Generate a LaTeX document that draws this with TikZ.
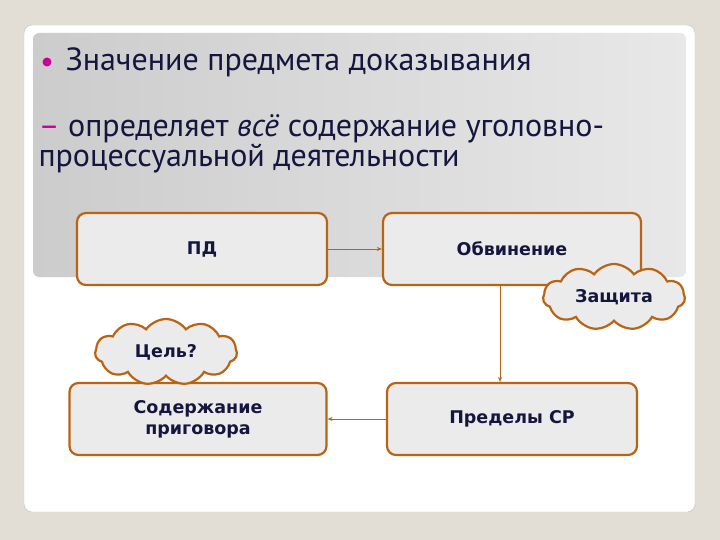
\documentclass[tikz,border=0pt]{standalone}
\usepackage{fontspec}
\setmainfont{PT Sans}
\newfontfamily\boxfont{DejaVu Sans}
\usetikzlibrary{arrows.meta,positioning,shapes.symbols}

\definecolor{bgbeige}{HTML}{E3DED5}
\definecolor{brdbrown}{HTML}{B86414}
\definecolor{boxgray}{HTML}{EBEBEB}
\definecolor{navytext}{HTML}{14163E}
\definecolor{accent}{HTML}{CC0099}

\begin{document}
\begin{tikzpicture}[
  x=1pt, y=-1pt,
  >=Stealth,
  every node/.style={text=navytext},
  stage/.style={draw=brdbrown, line width=2.2pt, rounded corners=9pt,
                fill=boxgray, minimum height=72pt, align=center,
                font=\boxfont\bfseries\fontsize{17.5}{21}\selectfont},
  puff/.style={cloud, cloud puffs=11, cloud puff arc=110, aspect=2.2,
               draw=brdbrown, line width=2.2pt, fill=boxgray,
               minimum width=142pt, minimum height=66pt, inner sep=0pt,
               font=\boxfont\bfseries\fontsize{17.5}{21}\selectfont},
  link/.style={brdbrown, line width=1pt},
  heading/.style={anchor=base west, font=\fontsize{32}{36}\selectfont},
]
% slide background
\fill[bgbeige] (0,0) rectangle (720,540);
\useasboundingbox (0,0) rectangle (720,540);
\filldraw[fill=white, draw=black!25, rounded corners=8pt] (24,25) rectangle (695,512);
\shade[left color=black!20, right color=black!9, rounded corners=6pt] (33,33) rectangle (686,277);

% heading text
\fill[accent] (47,62) circle (4.5pt);
\node[heading] (title) at (62,71) {Значение предмета доказывания};
\node[heading] (line1) at (35,137)
  {\textcolor{accent}{–} определяет \textit{всё} содержание уголовно-};
\node[heading] (line2) at (35,167) {процессуальной деятельности};

% the four stages
\node[stage, minimum width=250pt] (pd)   at (202,249) {ПД};
\node[stage, minimum width=258pt] (obv)  at (512,249) {Обвинение};
\node[stage, minimum width=257pt] (sod)  at (198,419) {Содержание\\приговора};
\node[stage, minimum width=250pt] (pred) at (512,419) {Пределы СР};

% connectors
\draw[link, -{Stealth[length=5pt,width=4pt]}] (pd) -- (obv);
\draw[link, -{Stealth[length=5pt,width=4pt]}] (obv.south -| 500,0) -- (pred.north -| 500,0);
\draw[link, -{Stealth[length=5pt,width=4pt]}] (pred) -- (sod);

% clouds
\node[puff] (zash) at (614,297) {Защита};
\node[puff] (cel)  at (166,352) {Цель?};
\end{tikzpicture}
\end{document}
